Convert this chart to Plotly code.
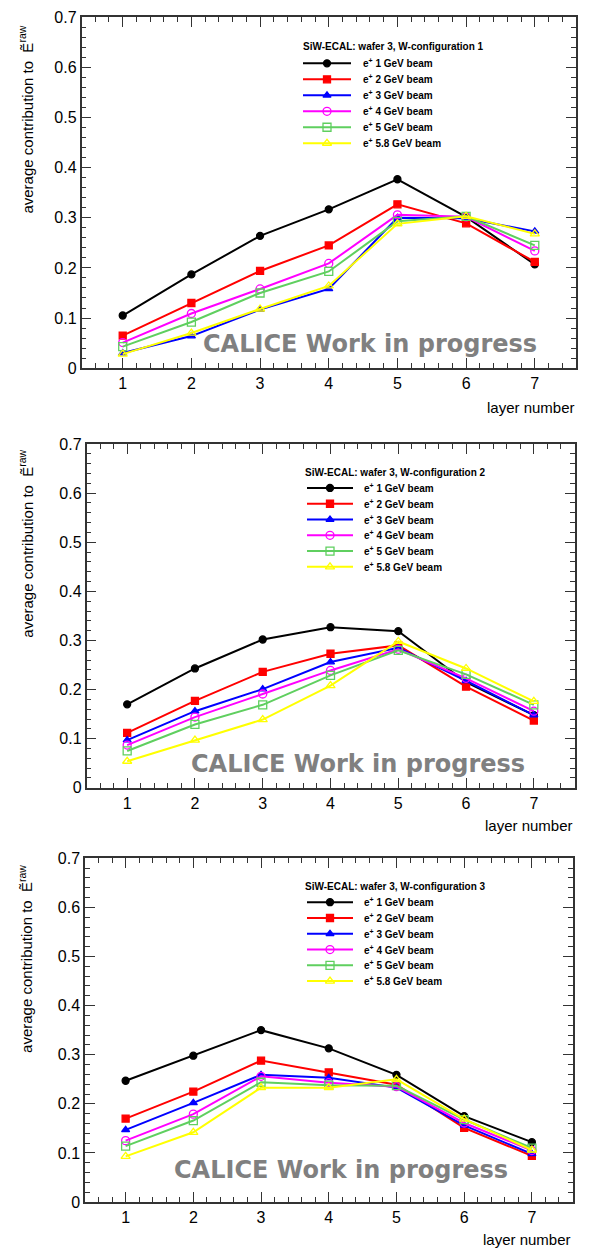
import plotly.graph_objects as go

# page is 592x1258; the default body margin (8px) surrounds the figure
PAGE_W, PAGE_H, OFF = 592, 1258, 8
W, H = PAGE_W - 2 * OFF, PAGE_H - 2 * OFF

# ---------------- data ----------------
layers = [1, 2, 3, 4, 5, 6, 7]
beam_labels = ["1", "2", "3", "4", "5", "5.8"]
config_titles = ["SiW-ECAL: wafer 3, W-configuration 1",
                 "SiW-ECAL: wafer 3, W-configuration 2",
                 "SiW-ECAL: wafer 3, W-configuration 3"]

cfg1_1gev = [0.105, 0.187, 0.264, 0.317, 0.377, 0.302, 0.207]
cfg1_2gev = [0.065, 0.130, 0.194, 0.245, 0.327, 0.289, 0.212]
cfg1_3gev = [0.030, 0.064, 0.117, 0.158, 0.300, 0.299, 0.273]
cfg1_4gev = [0.051, 0.109, 0.158, 0.209, 0.306, 0.302, 0.234]
cfg1_5gev = [0.043, 0.092, 0.150, 0.193, 0.293, 0.303, 0.245]
cfg1_58gev = [0.028, 0.070, 0.118, 0.164, 0.288, 0.303, 0.268]

cfg2_1gev = [0.170, 0.243, 0.302, 0.327, 0.319, 0.215, 0.148]
cfg2_2gev = [0.112, 0.177, 0.236, 0.273, 0.290, 0.206, 0.137]
cfg2_3gev = [0.097, 0.156, 0.201, 0.256, 0.285, 0.218, 0.148]
cfg2_4gev = [0.087, 0.144, 0.191, 0.239, 0.282, 0.223, 0.156]
cfg2_5gev = [0.075, 0.129, 0.169, 0.229, 0.280, 0.231, 0.169]
cfg2_58gev = [0.054, 0.097, 0.139, 0.208, 0.298, 0.243, 0.176]

cfg3_1gev = [0.247, 0.298, 0.350, 0.313, 0.259, 0.175, 0.122]
cfg3_2gev = [0.170, 0.225, 0.288, 0.264, 0.239, 0.151, 0.094]
cfg3_3gev = [0.147, 0.202, 0.259, 0.253, 0.233, 0.156, 0.098]
cfg3_4gev = [0.125, 0.179, 0.256, 0.243, 0.235, 0.161, 0.105]
cfg3_5gev = [0.114, 0.166, 0.244, 0.238, 0.237, 0.168, 0.110]
cfg3_58gev = [0.093, 0.142, 0.233, 0.233, 0.250, 0.169, 0.106]

configs = [
    [cfg1_1gev, cfg1_2gev, cfg1_3gev, cfg1_4gev, cfg1_5gev, cfg1_58gev],
    [cfg2_1gev, cfg2_2gev, cfg2_3gev, cfg2_4gev, cfg2_5gev, cfg2_58gev],
    [cfg3_1gev, cfg3_2gev, cfg3_3gev, cfg3_4gev, cfg3_5gev, cfg3_58gev],
]

# ---------------- styles ----------------
colors = ["#000000", "#ff0000", "#0000ff", "#ff00ff", "#5fcf5f", "#ffff00"]
symbols = ["circle", "square", "triangle-up", "circle-open", "square-open", "triangle-up-open"]
msizes = [7, 7, 7, 8, 8, 8]

# all positions below are page pixels
panels = [
    dict(l=81.5, r=576.0, t=9.5, b=365.0),
    dict(l=86.5, r=574.5, t=442.0, b=790.5),
    dict(l=85.0, r=572.5, t=862.0, b=1210.5),
]
legend_pos = [
    dict(hx=301, hy=39, lx0=303, lx1=351, tx=361, y0=56, dy=16.2),
    dict(hx=303, hy=471, lx0=307, lx1=353, tx=362, y0=486.5, dy=16.0),
    dict(hx=303, hy=891, lx0=307, lx1=353, tx=362, y0=906.5, dy=16.0),
]
watermark_pos = [(370, 341), (358, 766), (341, 1178)]
ytitle_pos = [(26, 113), (26, 543), (26, 964)]
xtitle_pos = [(577, 405), (575, 829), (573, 1248)]


def px(x):
    return (x - OFF) / W


def py(y):
    return 1 - (y - OFF) / H


AX = "#333333"
tickfont = dict(family="Liberation Sans, Arial, sans-serif", size=16, color="black")
FONT = "Liberation Sans, Arial, sans-serif"

fig = go.Figure()
layout = dict(width=W, height=H, margin=dict(l=0, r=0, t=0, b=0), autosize=False,
              paper_bgcolor="white", plot_bgcolor="rgba(0,0,0,0)", showlegend=False,
              annotations=[], shapes=[])

for i, p in enumerate(panels):
    n = "" if i == 0 else str(i + 1)
    xa, ya = "xaxis" + n, "yaxis" + n
    layout[xa] = dict(domain=[px(p["l"]), px(p["r"])], range=[0.4, 7.6],
                      anchor="y" + n, tickvals=layers, ticks="inside", ticklen=10,
                      tickwidth=1, tickcolor=AX, showline=True, linecolor=AX, linewidth=1.5,
                      mirror="ticks", showgrid=False, zeroline=False, tickfont=tickfont,
                      minor=dict(dtick=0.2, tick0=0, ticks="inside", ticklen=5,
                                 tickcolor=AX, tickwidth=1, showgrid=False))
    layout[ya] = dict(domain=[py(p["b"]), py(p["t"])], range=[0, 0.7],
                      anchor="x" + n, dtick=0.1, ticks="inside", ticklen=10,
                      tickwidth=1, tickcolor=AX, showline=True, linecolor=AX, linewidth=1.5,
                      mirror="ticks", showgrid=False, zeroline=False, tickfont=tickfont,
                      minor=dict(dtick=0.02, tick0=0, ticks="inside", ticklen=5,
                                 tickcolor=AX, tickwidth=1, showgrid=False))
    for k, vals in enumerate(configs[i]):
        fig.add_trace(go.Scatter(
            x=layers, y=vals, mode="lines+markers", xaxis="x" + n, yaxis="y" + n,
            line=dict(color=colors[k], width=2),
            marker=dict(symbol=symbols[k], size=msizes[k], color=colors[k],
                        line=dict(color=colors[k], width=1.3)),
            name="e+ %s GeV beam" % beam_labels[k]))

    # watermark
    wx, wy = watermark_pos[i]
    layout["annotations"].append(dict(
        text="<b>CALICE Work in progress</b>", xref="paper", yref="paper",
        x=px(wx), y=py(wy), xanchor="center", yanchor="middle", showarrow=False,
        font=dict(family="DejaVu Sans", size=24, color="rgb(128,128,128)")))
    # axis titles
    tx, ty = ytitle_pos[i]
    layout["annotations"].append(dict(
        text="average contribution to  Ẽ<sup>raw</sup>", xref="paper", yref="paper",
        x=px(tx), y=py(ty), xanchor="center", yanchor="middle", textangle=-90,
        showarrow=False, font=dict(family=FONT, size=15, color="black")))
    lx, ly = xtitle_pos[i]
    layout["annotations"].append(dict(
        text="layer number", xref="paper", yref="paper", x=px(lx), y=py(ly),
        xanchor="right", yanchor="middle", showarrow=False,
        font=dict(family=FONT, size=15, color="black")))

    # legend box content
    lg = legend_pos[i]
    layout["annotations"].append(dict(
        text="<b>%s</b>" % config_titles[i], xref="paper", yref="paper",
        x=px(lg["hx"]), y=py(lg["hy"]), xanchor="left", yanchor="middle",
        showarrow=False, font=dict(family=FONT, size=10, color="black")))
    for k in range(6):
        yy = lg["y0"] + k * lg["dy"]
        fig.add_trace(go.Scatter(
            x=[lg["lx0"], lg["lx1"]], y=[yy, yy], mode="lines", xaxis="x4", yaxis="y4",
            line=dict(color=colors[k], width=2), hoverinfo="skip"))
        fig.add_trace(go.Scatter(
            x=[(lg["lx0"] + lg["lx1"]) / 2], y=[yy], mode="markers", xaxis="x4", yaxis="y4",
            marker=dict(symbol=symbols[k], size=msizes[k], color=colors[k],
                        line=dict(color=colors[k], width=1.3)), hoverinfo="skip"))
        layout["annotations"].append(dict(
            text="<b>e<sup>+</sup> %s GeV beam</b>" % beam_labels[k], xref="paper", yref="paper",
            x=px(lg["tx"]), y=py(yy), xanchor="left", yanchor="middle", showarrow=False,
            font=dict(family=FONT, size=10, color="black")))

# overlay axis in page-pixel units for the legend keys
layout["xaxis4"] = dict(domain=[0, 1], range=[OFF, OFF + W], anchor="y4", visible=False,
                        fixedrange=True)
layout["yaxis4"] = dict(domain=[0, 1], range=[OFF + H, OFF], anchor="x4", visible=False,
                        fixedrange=True)

fig.update_layout(**layout)
fig.write_html("out.html", config={"displayModeBar": False})
